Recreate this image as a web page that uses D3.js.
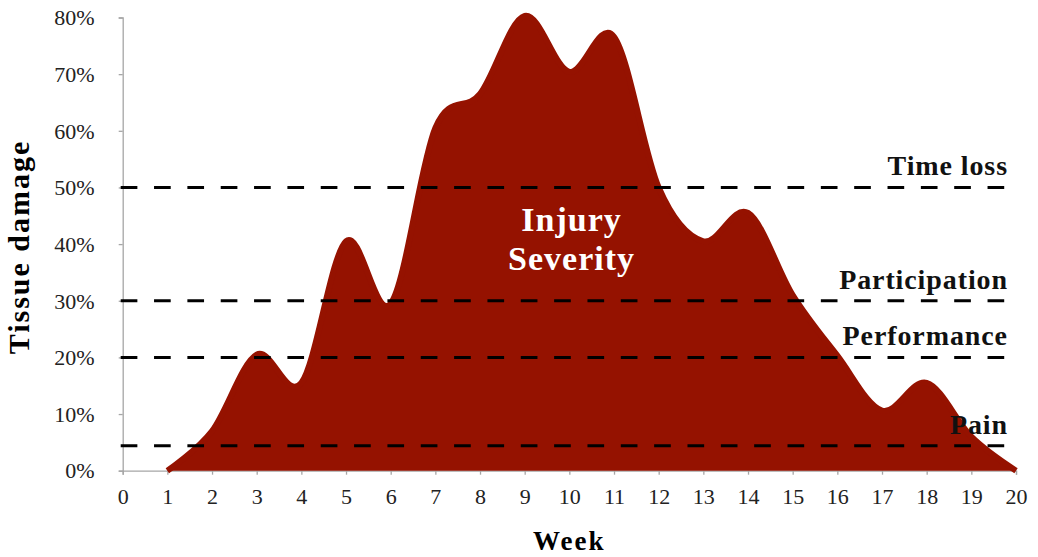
<html>
<head>
  <script src="https://d3js.org/d3.v7.min.js"></script>
  <style>
    body { margin: 0; background: #fff; }
    text { font-family: "Liberation Serif", "Times New Roman", serif; }
  </style>
</head>
<body>
<div id="chart"></div>
<script>
  // weekly tissue damage (%)
  const weeks = [1, 2, 3, 4, 5, 6, 7, 8, 9, 10, 11, 12, 13, 14, 15, 16, 17, 18, 19, 20];
  const damage = [0, 7, 20.5, 15.5, 40.5, 29.5, 60.5, 66.5, 80.3, 70.4, 76.6, 50, 40.5, 45.5, 31, 20.3, 10.6, 15.5, 6, 0];
  const xTicks = d3.range(0, 21);
  const yTicks = [0, 10, 20, 30, 40, 50, 60, 70, 80];
  const levels = ["Time loss", "Participation", "Performance", "Pain"];
  const levelValues = [50, 30, 20, 4.4];

  const width = 1038, height = 557;
  const margin = { top: 17.5, right: 22, bottom: 86.3, left: 122.7 };

  let svg = d3.select("#chart").append("svg").attr("width", width).attr("height", height);

  let xScale = d3.scaleLinear().domain([0, 20]).range([margin.left, width - margin.right]);
  let yScale = d3.scaleLinear().domain([0, 80]).range([height - margin.bottom, margin.top]);

  //xAxis
  let bottomAxis = d3.axisBottom(xScale).tickValues(xTicks).tickSize(4).tickPadding(14).tickFormat(d3.format("d"));
  let gx = svg.append("g")
     .attr("transform", "translate(0," + yScale(0) + ")")
     .call(bottomAxis);
  gx.selectAll("text").attr("font-size", "22px").attr("font-family", "Liberation Serif").attr("fill", "#222");

  //yAxis
  let leftAxis = d3.axisLeft(yScale).tickValues(yTicks).tickSize(4).tickPadding(24).tickFormat(d => d + "%");
  let gy = svg.append("g")
     .attr("transform", "translate(" + margin.left + ",0)")
     .call(leftAxis);
  gy.selectAll("text").attr("font-size", "22px").attr("font-family", "Liberation Serif").attr("fill", "#222").attr("dy", "0.33em");

  svg.selectAll(".domain, .tick line").attr("stroke", "#a6a6a6").attr("stroke-width", 1.3);

  //area
  const pts = weeks.map((w, i) => [w, damage[i]]);
  let area = d3.area()
    .x(d => xScale(d[0]))
    .y0(yScale(0))
    .y1(d => yScale(d[1]))
    .curve(d3.curveCatmullRom.alpha(0));
  let line = d3.line()
    .x(d => xScale(d[0]))
    .y(d => yScale(d[1]))
    .curve(d3.curveCatmullRom.alpha(0));

  svg.append("path").attr("d", area(pts)).attr("fill", "#951200");
  svg.append("path").attr("d", line(pts)).attr("fill", "none")
     .attr("stroke", "#951200").attr("stroke-width", 6);

  //threshold lines
  svg.selectAll("line.level")
     .data(levelValues)
     .enter()
     .append("line")
      .attr("class", "level")
      .attr("x1", xScale(0) - 2)
      .attr("x2", xScale(19.76))
      .attr("y1", d => yScale(d))
      .attr("y2", d => yScale(d))
      .attr("stroke", "#000")
      .attr("stroke-width", 3)
      .attr("stroke-dasharray", "16.67,16.67");

  svg.selectAll("text.level")
     .data(levels)
     .enter()
     .append("text")
      .attr("class", "level")
      .attr("x", xScale(19.82))
      .attr("y", (d, i) => yScale(levelValues[i]) - 12)
      .attr("text-anchor", "end")
      .attr("font-size", "28px")
      .attr("font-weight", "bold")
      .attr("letter-spacing", "0.9px")
      .attr("fill", "#111")
      .text(d => d);

  //inner label
  svg.append("text")
     .attr("x", xScale(10.05))
     .attr("y", yScale(42.3))
     .attr("text-anchor", "middle")
     .attr("font-size", "34px")
     .attr("font-weight", "bold")
     .attr("letter-spacing", "1px")
     .attr("fill", "#fff")
     .selectAll("tspan")
     .data(["Injury", "Severity"])
     .enter()
     .append("tspan")
      .attr("x", xScale(10.05))
      .attr("dy", (d, i) => i ? "38.5px" : 0)
      .text(d => d);

  //axis labels
  svg.append("text")
     .attr("x", (xScale(0) + xScale(20)) / 2)
     .attr("y", 550)
     .attr("text-anchor", "middle")
     .attr("font-size", "27px")
     .attr("font-weight", "bold")
     .attr("letter-spacing", "2px")
     .text("Week");

  svg.append("text")
     .attr("transform", "translate(29," + 247 + ") rotate(-90)")
     .attr("text-anchor", "middle")
     .attr("font-size", "30px")
     .attr("font-weight", "bold")
     .attr("letter-spacing", "2px")
     .text("Tissue damage");
</script>
</body>
</html>
